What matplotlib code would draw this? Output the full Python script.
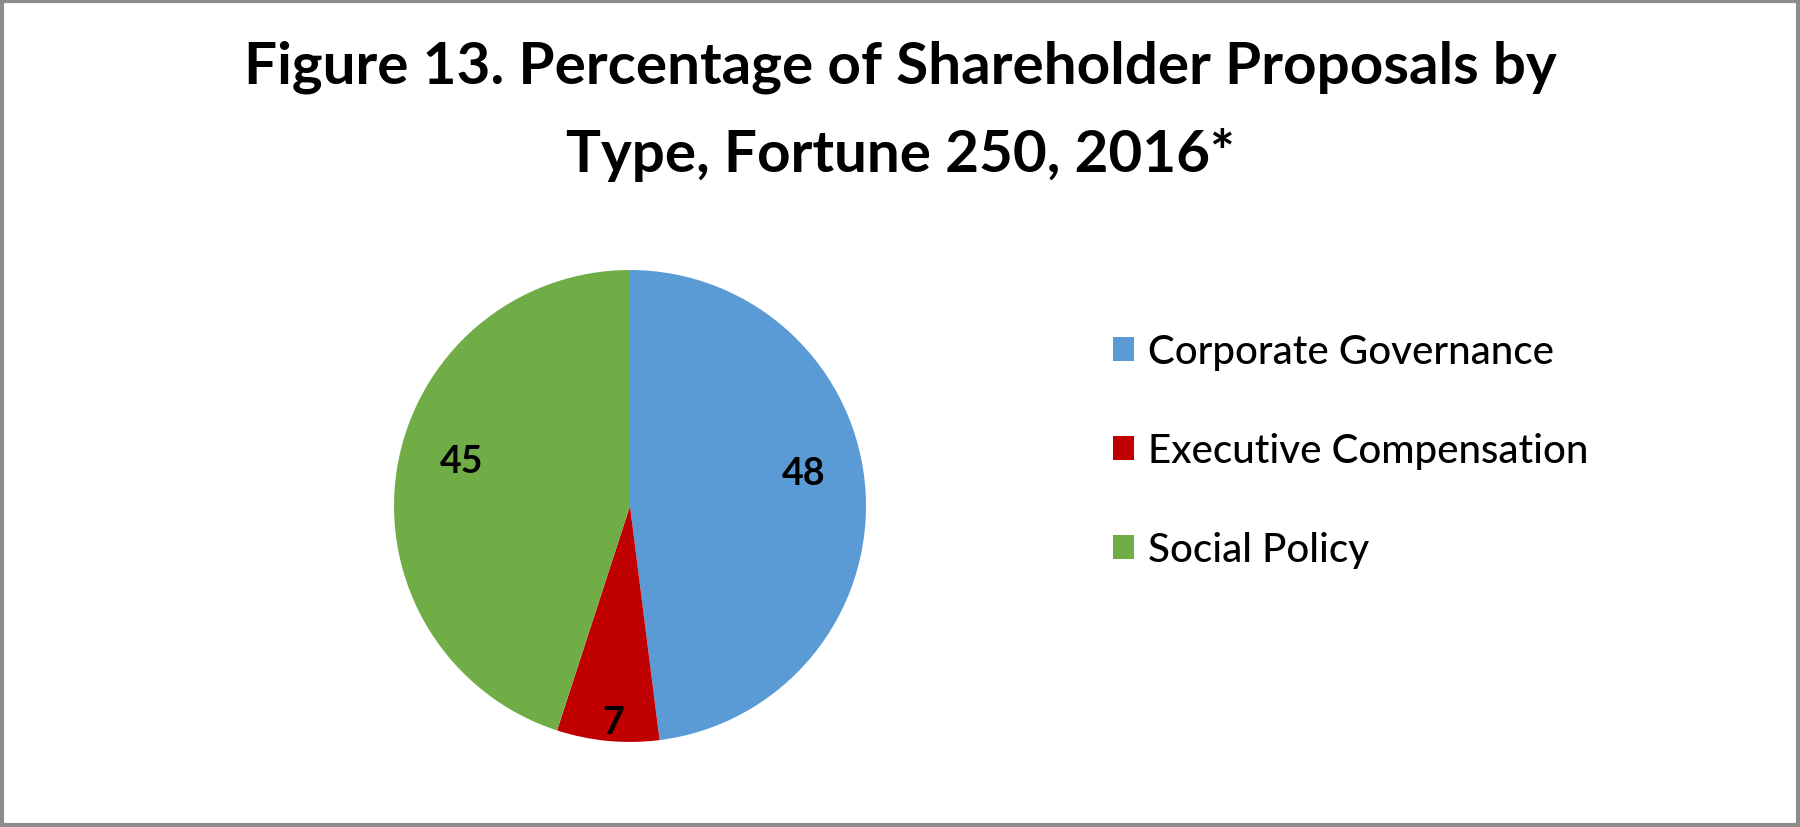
import matplotlib.pyplot as plt
import numpy as np
from matplotlib.patches import Rectangle

# data
categories = ['Corporate Governance', 'Executive Compensation', 'Social Policy']
values = [48, 7, 45]
colors = ['#5b9bd5', '#c00000', '#70ad47']
title = 'Figure 13. Percentage of Shareholder Proposals by\nType, Fortune 250, 2016*'

plt.rcParams['font.family'] = ['Lato', 'DejaVu Sans']

fig = plt.figure(figsize=(18, 8.28), dpi=100)
fig.patch.set_facecolor('white')

# pie axes: centre ~(630, 507) px, radius ~236 px
ax = fig.add_axes([0.2189, 0.1027, 0.2622, 0.5700])
wedges, _ = ax.pie(values, colors=colors, startangle=90, counterclock=False,
                   radius=1, wedgeprops=dict(edgecolor='white', linewidth=0))
ax.set_xlim(-1, 1)
ax.set_ylim(-1, 1)
ax.set_aspect('equal')
ax.axis('off')

# value labels, distance from centre per wedge
label_dist = [0.75, 0.92, 0.74]
label_shift = [7, 1, -6]   # degrees
for w, v, d, s in zip(wedges, values, label_dist, label_shift):
    ang = np.deg2rad((w.theta1 + w.theta2) / 2 + s)
    ax.text(d * np.cos(ang), d * np.sin(ang), str(v), ha='center', va='center',
            fontsize=27, fontweight='bold', color='black')

fig.text(0.5, 0.951, title, ha='center', va='top', fontsize=42,
         fontweight='bold', linespacing=1.76)

fig.legend(wedges, categories, loc='upper left', bbox_to_anchor=(0.6183, 0.5966),
           frameon=False, prop=dict(size=29, weight='medium'),
           handlelength=0.53, handleheight=0.53,
           handletextpad=0.35, labelspacing=1.54, borderpad=0, borderaxespad=0)

# grey frame round the chart
fig.add_artist(Rectangle((0.001, 0.003), 0.998, 0.995, transform=fig.transFigure,
                         fill=False, edgecolor='#8c8c8c', linewidth=3))

fig.savefig('out.png', dpi=100)
